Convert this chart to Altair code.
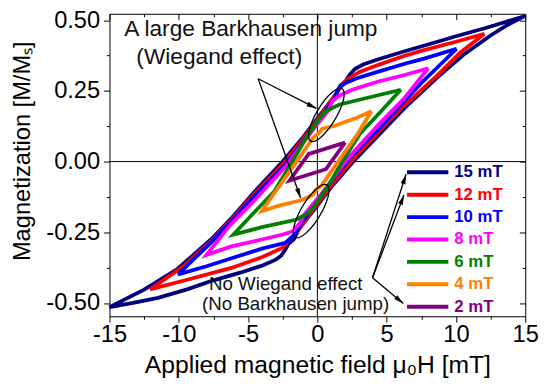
import math
import altair as alt
import pandas as pd

FONT = "Liberation Sans"

LABELS = ["15 mT", "12 mT", "10 mT", "8 mT", "6 mT", "4 mT", "2 mT"]
COLORS = ["#000080", "#ff0000", "#0000ff", "#ff00ff", "#008000", "#ff8000", "#800080"]

# each loop: upper branch (field decreasing) then lower branch (field increasing)
LOOP_15 = [(15.0, 0.515), (13.5, 0.493), (12.2, 0.473), (10.0, 0.443), (8.6, 0.423), (6.3, 0.39),
           (4.4, 0.362), (3.3, 0.343), (2.7, 0.327), (2.3, 0.305), (2.05, 0.285), (1.65, 0.268),
           (1.3, 0.236), (0.2, 0.165), (-1.0, 0.088), (-2.5, 0.0), (-4.5, -0.105), (-6.2, -0.2),
           (-7.6, -0.272), (-10.1, -0.38), (-12.5, -0.453), (-15.0, -0.515),
           (-13.3, -0.5), (-11.5, -0.482), (-9.4, -0.452), (-7.5, -0.42), (-5.5, -0.392),
           (-4.0, -0.368), (-3.0, -0.347), (-2.6, -0.332), (-2.3, -0.31), (-2.1, -0.292),
           (-1.7, -0.275), (-1.35, -0.24), (-0.2, -0.168), (1.0, -0.09), (2.6, 0.0), (4.5, 0.098),
           (6.3, 0.19), (8.6, 0.295), (10.5, 0.376), (12.5, 0.446), (13.6, 0.48), (15.0, 0.515)]
LOOP_12 = [(12.06, 0.452), (10.0, 0.424), (7.7, 0.394), (6.3, 0.374), (4.4, 0.342), (3.0, 0.316),
           (2.3, 0.295), (1.8, 0.272), (1.35, 0.24), (0.2, 0.16), (-1.0, 0.082), (-2.4, -0.005),
           (-4.5, -0.112), (-6.2, -0.205), (-7.6, -0.278), (-9.6, -0.368), (-12.06, -0.452),
           (-9.4, -0.418), (-6.2, -0.376), (-4.0, -0.338), (-2.5, -0.305), (-2.05, -0.278),
           (-1.4, -0.245), (-0.2, -0.162), (1.0, -0.085), (2.5, 0.005), (4.5, 0.11), (6.3, 0.2),
           (8.6, 0.302), (10.3, 0.385), (12.06, 0.452)]
LOOP_10 = [(10.05, 0.399), (7.7, 0.364), (6.3, 0.346), (4.4, 0.318), (2.8, 0.294), (2.0, 0.277),
           (1.55, 0.26), (1.25, 0.225), (0.2, 0.152), (-1.0, 0.072), (-2.3, -0.01), (-4.5, -0.12),
           (-6.2, -0.21), (-7.6, -0.283), (-8.8, -0.34), (-10.05, -0.399),
           (-8.0, -0.37), (-6.2, -0.342), (-4.0, -0.308), (-2.3, -0.287), (-1.6, -0.257),
           (-1.25, -0.225), (-0.2, -0.152), (1.0, -0.072), (2.3, 0.01), (4.5, 0.12), (6.2, 0.21),
           (7.6, 0.283), (8.6, 0.33), (10.05, 0.399)]
LOOP_8 = [(8.0, 0.33), (6.3, 0.306), (4.4, 0.283), (2.5, 0.254), (1.55, 0.232), (1.05, 0.213),
          (0.8, 0.18), (-0.2, 0.12), (-1.0, 0.068), (-2.2, -0.012), (-4.5, -0.135), (-6.3, -0.225),
          (-8.0, -0.33),
          (-6.2, -0.3), (-4.4, -0.28), (-2.5, -0.258), (-1.8, -0.247), (-1.3, -0.22), (-0.9, -0.185),
          (0.2, -0.12), (1.0, -0.068), (2.2, 0.012), (4.5, 0.135), (6.2, 0.22), (8.0, 0.33)]
LOOP_6 = [(6.02, 0.254), (4.0, 0.23), (1.55, 0.201), (0.6, 0.178), (0.2, 0.155), (-0.8, 0.085),
          (-1.8, 0.0), (-3.1, -0.105), (-4.6, -0.182), (-6.06, -0.258),
          (-4.0, -0.232), (-1.55, -0.206), (-0.6, -0.18), (-0.2, -0.155), (0.8, -0.085), (1.8, 0.0),
          (3.1, 0.1), (4.6, 0.178), (6.02, 0.254)]
LOOP_4 = [(3.9, 0.178), (2.7, 0.152), (1.2, 0.126), (0.35, 0.116), (0.1, 0.1), (-0.3, 0.085),
          (-1.5, 0.0), (-2.8, -0.09), (-4.0, -0.175),
          (-2.7, -0.155), (-1.1, -0.136), (-0.35, -0.118), (-0.1, -0.1), (0.3, -0.085), (1.5, 0.0),
          (2.8, 0.09), (3.9, 0.178)]
LOOP_2 = [(2.0, 0.067), (-0.62, 0.027), (-2.0, -0.067), (0.62, -0.027), (2.0, 0.067)]

LOOPS = [LOOP_15, LOOP_12, LOOP_10, LOOP_8, LOOP_6, LOOP_4, LOOP_2]

X_TICKS = [-15, -12.5, -10, -7.5, -5, -2.5, 0, 2.5, 5, 7.5, 10, 12.5, 15]
Y_TICKS = [-0.5, -0.375, -0.25, -0.125, 0.0, 0.125, 0.25, 0.375, 0.5]

X_TITLE = "Applied magnetic field \u03bc\u2080H [mT]"
Y_TITLE = "Magnetization [M/M\u209b]"

ANNOT_BIG = ["A large Barkhausen jump", "(Wiegand effect)"]
ANNOT_SMALL = ["No Wiegand effect", "(No Barkhausen jump)"]

# ---------------------------------------------------------------- layout
W, H = 422, 307
X_DOM = [-15, 15]
Y_DOM = [-0.547, 0.5227]
PXX = W / (X_DOM[1] - X_DOM[0])
PXY = H / (Y_DOM[1] - Y_DOM[0])

rows = []
for lab, pts in zip(LABELS, LOOPS):
    for i, (x, y) in enumerate(pts):
        rows.append({"loop": lab, "i": i, "x": x, "y": y})
df = pd.DataFrame(rows)

xs = alt.Scale(domain=X_DOM, nice=False, zero=False)
ys = alt.Scale(domain=Y_DOM, nice=False, zero=False)
cs = alt.Scale(domain=LABELS, range=COLORS)

MAJ_X = "abs(datum.value % 5) < 0.001"
MAJ_Y = "abs(datum.value * 4 - round(datum.value * 4)) < 0.001"

x_bottom = alt.Axis(
    orient="bottom", values=X_TICKS, title=X_TITLE,
    labelExpr=f"{MAJ_X} ? (datum.value < 0 ? '-' + format(-datum.value, 'd') : format(datum.value, 'd')) : ''",
    tickSize={"condition": {"test": MAJ_X, "value": 6}, "value": 3},
    domain=False, grid=False, tickColor="black", tickWidth=1,
    labelFont=FONT, labelFontSize=24, labelColor="black", labelPadding=1,
    labelFlush=False, labelOverlap=False,
    titleFont=FONT, titleFontSize=25, titleFontWeight="normal", titleColor="black",
    titleX=211, titleY=57, titleBaseline="alphabetic", titleAlign="center",
)
y_left = alt.Axis(
    orient="left", values=Y_TICKS, title=Y_TITLE,
    labelExpr=f"{MAJ_Y} ? (datum.value < 0 ? '-' + format(-datum.value, '.2f') : format(datum.value, '.2f')) : ''",
    tickSize={"condition": {"test": MAJ_Y, "value": 6}, "value": 3},
    domain=False, grid=False, tickColor="black", tickWidth=1,
    labelFont=FONT, labelFontSize=24, labelColor="black", labelPadding=4,
    labelFlush=False, labelOverlap=False,
    titleFont=FONT, titleFontSize=24, titleFontWeight="normal", titleColor="black",
    titleAngle=270, titleX=-81, titleY=139, titleBaseline="alphabetic", titleAlign="center",
)
x_top = alt.Axis(orient="top", values=X_TICKS, labels=False, title=None, domain=False, grid=False,
                 tickColor="black", tickWidth=1, tickSize=alt.ExprRef(f"{MAJ_X} ? -6 : -3"))
y_right = alt.Axis(orient="right", values=Y_TICKS, labels=False, title=None, domain=False, grid=False,
                   tickColor="black", tickWidth=1, tickSize=alt.ExprRef(f"{MAJ_Y} ? -6 : -3"))


def X(field, **kw):
    return alt.X(field, type="quantitative", scale=xs, axis=kw.get("axis", None))


def Y(field, **kw):
    return alt.Y(field, type="quantitative", scale=ys, axis=kw.get("axis", None))


cross_v = alt.Chart(pd.DataFrame({"x": [0]})).mark_rule(color="black", strokeWidth=1).encode(x=X("x"))
cross_h = alt.Chart(pd.DataFrame({"y": [0]})).mark_rule(color="black", strokeWidth=1).encode(y=Y("y"))

loops = alt.Chart(df).mark_line(strokeWidth=3.8).encode(
    x=X("x", axis=x_bottom), y=Y("y", axis=y_left),
    color=alt.Color("loop:N", scale=cs, legend=None),
    detail="loop:N", order="i:Q",
)

frame_axes = alt.Chart(df).mark_point(opacity=0).encode(x=X("x", axis=x_top), y=Y("y", axis=y_right))

# ellipses around the jumps
ELL = pd.DataFrame({"x": [0.65, -0.45], "y": [0.165, -0.175]})
ellipses = alt.Chart(ELL).mark_point(
    shape="M-1,0 A1,0.32 0 1,1 1,0 A1,0.32 0 1,1 -1,0 Z",
    size=3844, angle=301, filled=False, stroke="black", strokeWidth=1.3, opacity=1,
).encode(x=X("x"), y=Y("y"))

# arrows
arrows_df = pd.DataFrame({
    "x": [-4.27, -4.27, 3.98, 3.98, 3.98],
    "y": [0.293, 0.293, -0.411, -0.411, -0.411],
    "x2": [-0.07, -1.21, 6.4, 6.25, 6.2],
    "y2": [0.188, -0.129, -0.045, -0.118, -0.502],
})
angs = []
for _, r in arrows_df.iterrows():
    dx = (r.x2 - r.x) * PXX
    dy = -(r.y2 - r.y) * PXY
    angs.append(math.degrees(math.atan2(dx, -dy)) % 360)
arrows_df["ang"] = angs

arrow_lines = alt.Chart(arrows_df).mark_rule(color="black", strokeWidth=1.3).encode(
    x=X("x"), y=Y("y"), x2="x2", y2="y2")
arrow_heads = alt.Chart(arrows_df).mark_point(
    shape="M0,0 L0.5,2 L-0.5,2 Z", size=100, filled=True, color="black", opacity=1,
).encode(x=X("x2"), y=Y("y2"), angle=alt.Angle("ang:Q", scale=None))

big_df = pd.DataFrame({"t": ANNOT_BIG, "x": [-13.93, -13.06], "y": [0.444, 0.346]})
small_df = pd.DataFrame({"t": ANNOT_SMALL, "x": [-7.82, -8.32], "y": [-0.455, -0.525]})
big_text = alt.Chart(big_df).mark_text(align="left", baseline="alphabetic", font=FONT, fontSize=23,
                                       color="#111").encode(x=X("x"), y=Y("y"), text="t:N")
small_text = alt.Chart(small_df).mark_text(align="left", baseline="alphabetic", font=FONT, fontSize=19,
                                           color="#111").encode(x=X("x"), y=Y("y"), text="t:N")

# legend
LEG_Y0, LEG_STEP = -0.038, 0.0792
leg = pd.DataFrame({
    "loop": LABELS,
    "txt": [l if len(l) > 4 else "\u00a0" + l for l in LABELS],
    "y": [LEG_Y0 - k * LEG_STEP for k in range(len(LABELS))],
    "x1": [6.47] * len(LABELS), "x2": [9.45] * len(LABELS), "xt": [9.88] * len(LABELS),
})
leg_lines = alt.Chart(leg).mark_rule(strokeWidth=4).encode(
    x=X("x1"), x2="x2", y=Y("y"), color=alt.Color("loop:N", scale=cs, legend=None))
leg_text = alt.Chart(leg).mark_text(align="left", baseline="middle", font=FONT, fontSize=17,
                                    fontWeight="bold").encode(
    x=X("xt"), y=Y("y"), text="txt:N", color=alt.Color("loop:N", scale=cs, legend=None))

chart = alt.layer(
    cross_v, cross_h, loops, frame_axes, ellipses, arrow_lines, arrow_heads,
    big_text, small_text, leg_lines, leg_text,
).resolve_axis(x="independent", y="independent").properties(
    width=W, height=H,
    padding={"left": 103, "top": 3, "right": 17, "bottom": 72},
    autosize=alt.AutoSizeParams(type="none"),
    background="white",
).configure_view(stroke="black", strokeWidth=1)

chart.save("out.html", embed_options={"renderer": "svg", "actions": False})
